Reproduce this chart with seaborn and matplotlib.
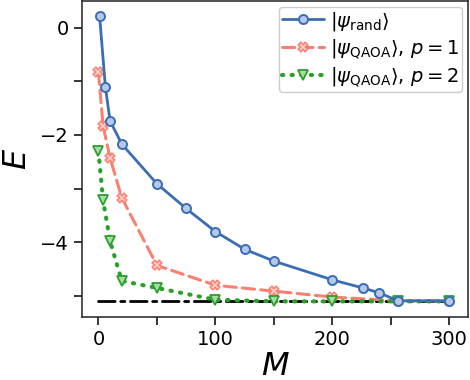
import numpy as np
import pandas as pd
import matplotlib
matplotlib.use("Agg")
import matplotlib.pyplot as plt
import seaborn as sns
from matplotlib.ticker import MultipleLocator, FuncFormatter

# Data
M_rand = [1, 6, 10, 20, 50, 75, 100, 125, 150, 200, 226, 240, 256, 300]
E_rand = [0.22, -1.11, -1.74, -2.17, -2.91, -3.37, -3.80, -4.13, -4.35, -4.70, -4.85, -4.94, -5.09, -5.09]

M_q1 = [0, 4, 10, 20, 50, 100, 150, 200, 256, 300]
E_q1 = [-0.83, -1.83, -2.43, -3.17, -4.43, -4.80, -4.91, -5.02, -5.09, -5.09]

M_q2 = [0, 4, 10, 20, 50, 100, 150, 200, 256, 300]
E_q2 = [-2.30, -3.22, -3.98, -4.72, -4.85, -5.07, -5.10, -5.10, -5.10, -5.10]

M_ground = [0, 300]
E_ground = [-5.10, -5.10]

labels = [r"$|\psi_{\rm rand}\rangle$",
          r"$|\psi_{\rm QAOA}\rangle$, $p=1$",
          r"$|\psi_{\rm QAOA}\rangle$, $p=2$"]

sns.set_style("ticks")
plt.rcParams['font.family'] = ['DejaVu Sans']
plt.rcParams['mathtext.fontset'] = 'dejavusans'
plt.rcParams['text.color'] = 'black'
plt.rcParams['axes.labelcolor'] = 'black'
plt.rcParams['xtick.color'] = 'black'
plt.rcParams['ytick.color'] = 'black'

fig = plt.figure(figsize=(4.7, 3.8), dpi=100)
ax = fig.add_axes([0.1745, 0.166, 0.8215, 0.832])

blue = "#3b6db3"
red = "#fa8072"
green = "#2ca02c"

sns.lineplot(x=M_ground, y=E_ground, ax=ax, color="black", linestyle=(0, (6, 2, 1.5, 2)),
             linewidth=2, zorder=1)

sns.lineplot(x=M_rand, y=E_rand, ax=ax, color=blue, linewidth=2, marker="o",
             markersize=6.5, markerfacecolor="#b5c8e8", markeredgecolor=blue,
             markeredgewidth=1.4, label=labels[0], zorder=3)
sns.lineplot(x=M_q1, y=E_q1, ax=ax, color=red, linewidth=2.2, linestyle=(0, (4, 2)),
             marker="X", markersize=7, markerfacecolor="#fcd0ca", markeredgecolor=red,
             markeredgewidth=1.1, label=labels[1], zorder=2)
sns.lineplot(x=M_q2, y=E_q2, ax=ax, color=green, linewidth=3, linestyle=(0, (0.3, 2.0)),
             marker="v", markersize=7, markerfacecolor="#a8dba8", markeredgecolor=green,
             markeredgewidth=1.3, label=labels[2], zorder=2)
for ln in ax.get_lines():
    ln.set_dash_capstyle("round")

ax.set_xlim(-14, 316)
ax.set_ylim(-5.39, 0.5)
ax.xaxis.set_major_locator(MultipleLocator(50))
ax.yaxis.set_major_locator(MultipleLocator(1))
ax.xaxis.set_major_formatter(FuncFormatter(lambda v, p: f"{int(round(v))}" if int(round(v)) % 100 == 0 else ""))
ax.yaxis.set_major_formatter(FuncFormatter(lambda v, p: f"{int(round(v))}".replace("-", "\u2212") if int(round(v)) % 2 == 0 else ""))
ax.tick_params(axis="both", labelsize=14, length=6, width=1.1, direction="out")
for s in ax.spines.values():
    s.set_linewidth(1.1)
    s.set_color("#222222")

ax.set_xlabel(r"$M$", fontsize=23, labelpad=1)
ax.set_ylabel(r"$E$", fontsize=23, labelpad=5)

leg = ax.legend(loc="upper right", fontsize=14, handlelength=2.2, handletextpad=0.3,
                labelspacing=0.25, borderpad=0.15, borderaxespad=0.3, framealpha=1)

fig.savefig("out.png", dpi=100)
